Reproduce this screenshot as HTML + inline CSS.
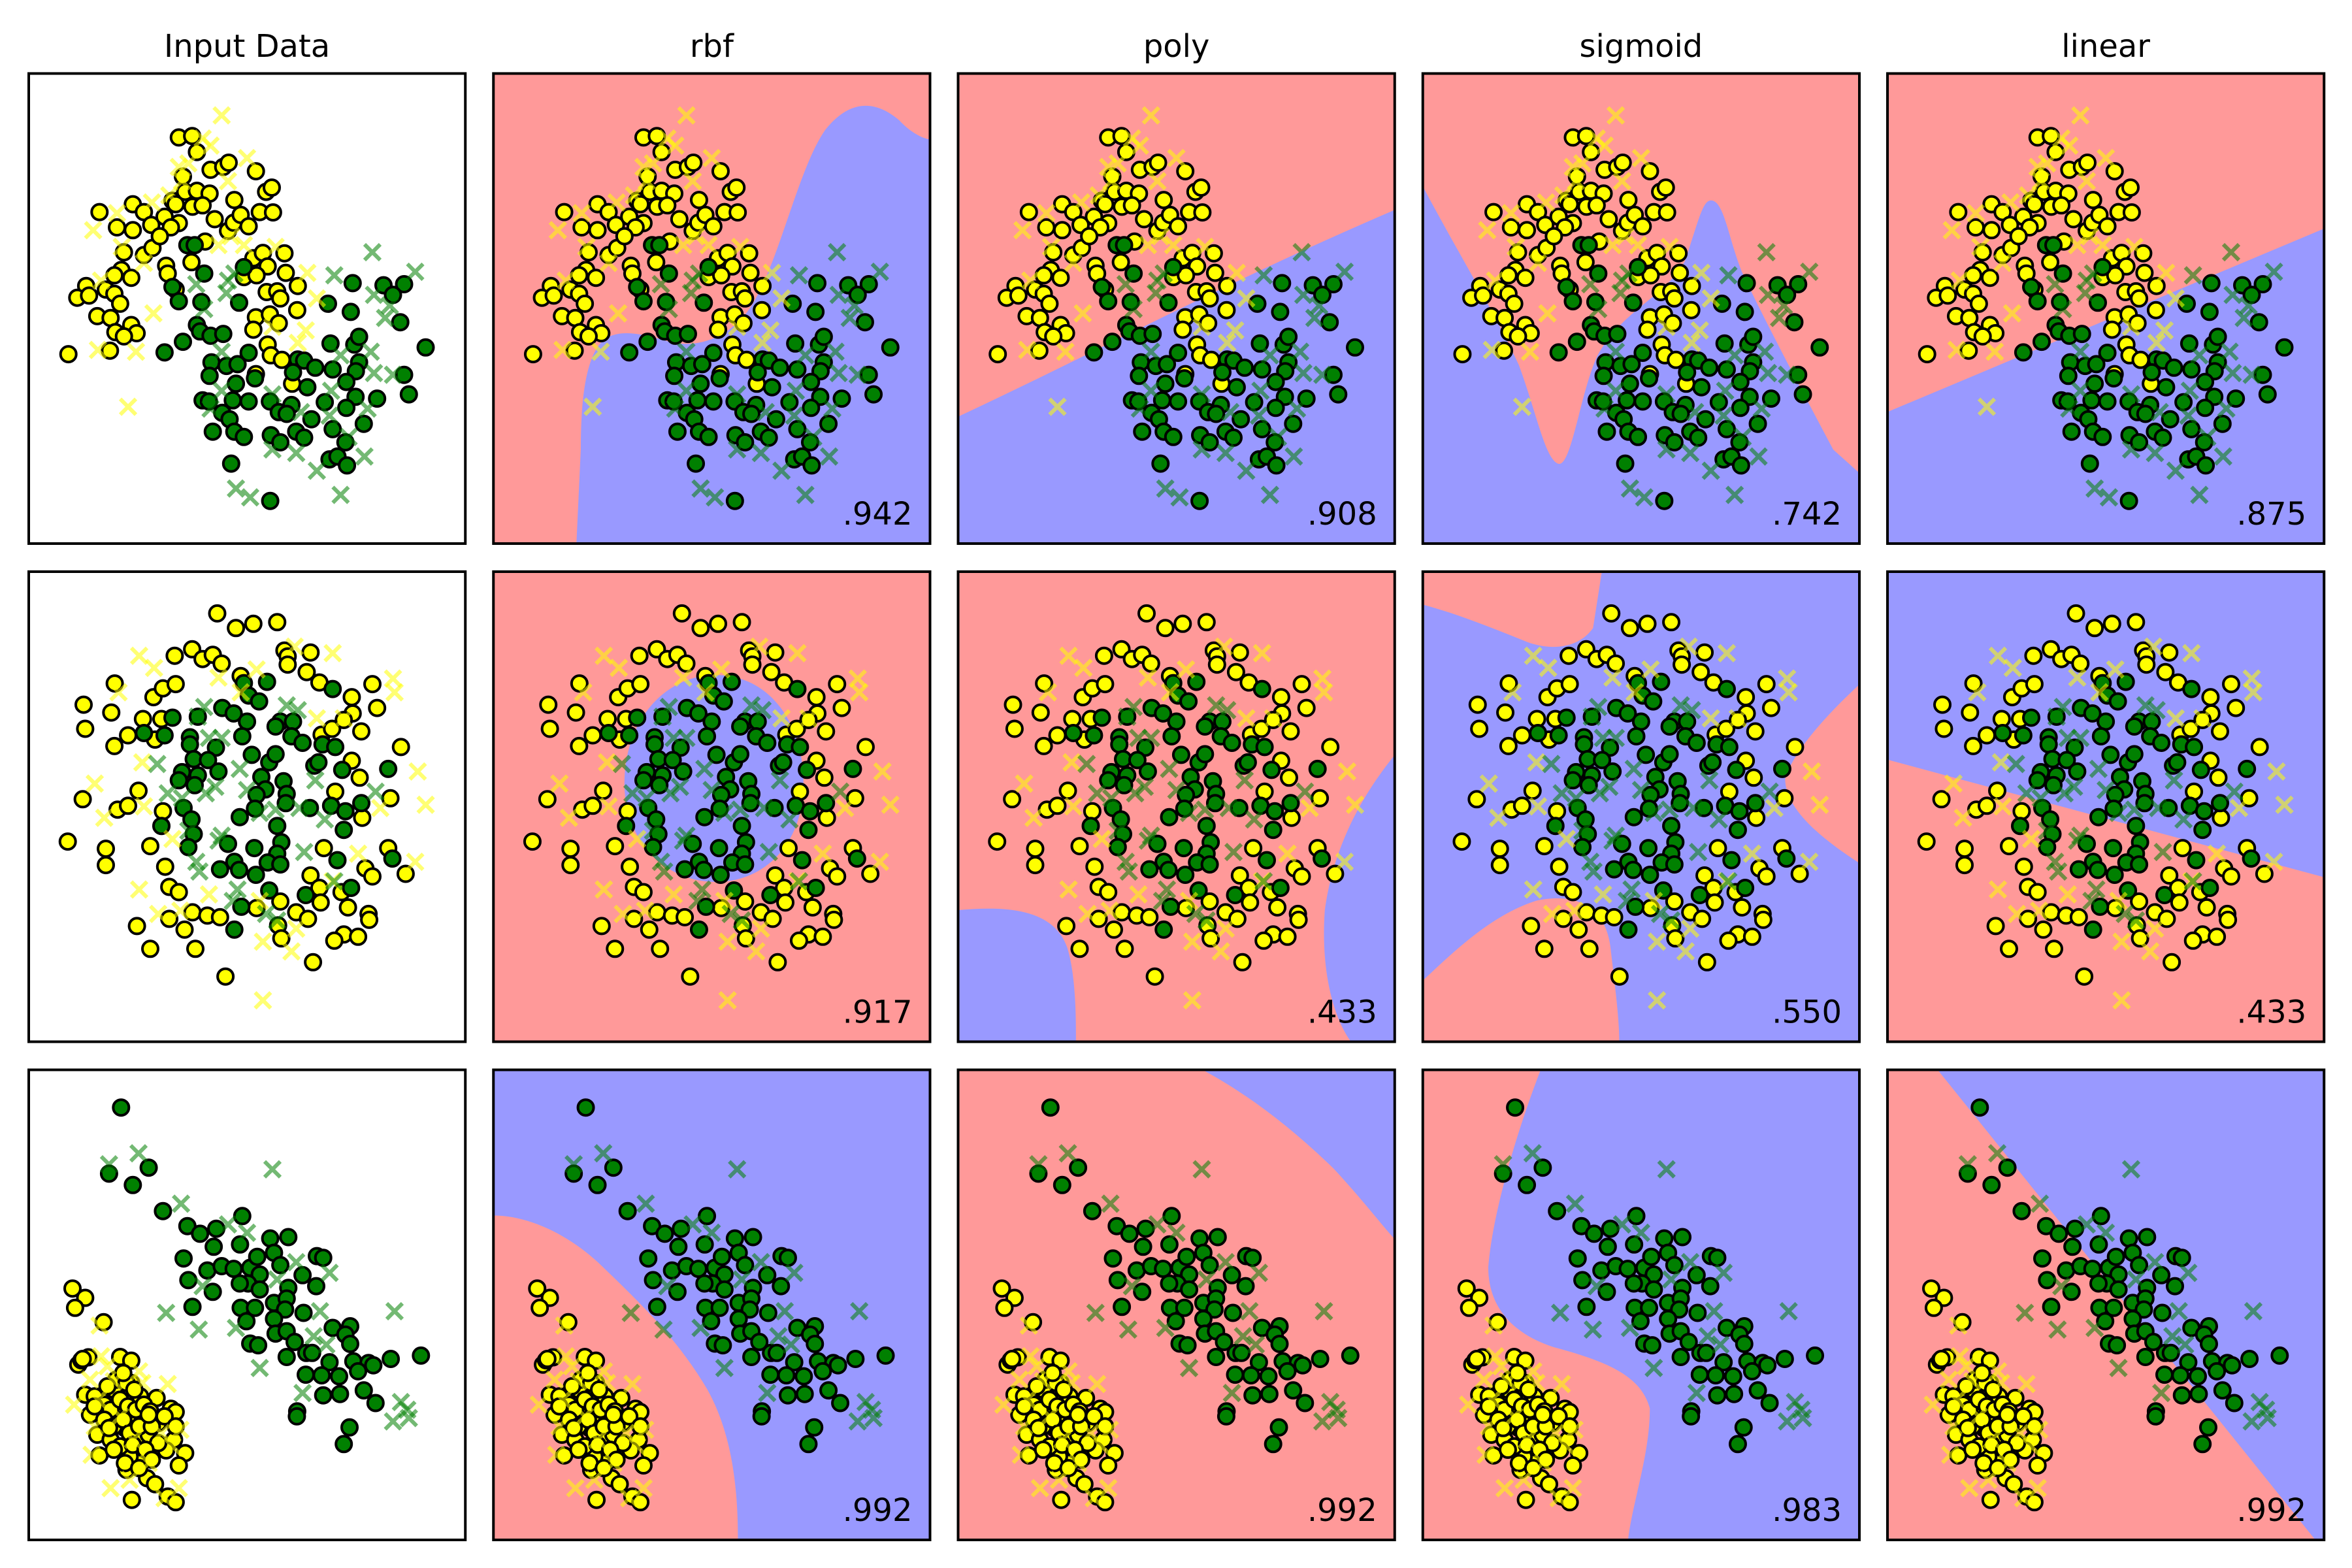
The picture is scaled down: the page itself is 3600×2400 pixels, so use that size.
<!DOCTYPE html>
<html><head><meta charset="utf-8">
<style>
html,body{margin:0;padding:0;background:#fff;}
svg{display:block;}
text{font-family:"DejaVu Sans","Liberation Sans",sans-serif;}
</style></head>
<body>
<svg id="fig" xmlns="http://www.w3.org/2000/svg" width="3600" height="2400" viewBox="0 0 3600 2400">
<rect x="0" y="0" width="3600" height="2400" fill="#fff"/>
</svg>
<script>
// ---- chart data (values in dataset units; axis limits below) ----
const columnTitles = ["Input Data", "rbf", "poly", "sigmoid", "linear"];
const scoreLabels = [
  ["", ".942", ".908", ".742", ".875"],
  ["", ".917", ".433", ".550", ".433"],
  ["", ".992", ".992", ".983", ".992"]
];
const xLimits = [[92,1468],[92,1468],[92,1468]];
const yLimits = [[207,1530],[70,1512],[72,1480]];

const ds1YellowTrain = [[565,387],[607,383],[622,428],[665,478],[705,470],[722,458],[808,482],[840,540],[858,528],[578,497],[585,540],[622,537],[662,545],[545,565],[555,575],[608,582],[640,578],[420,575],[455,597],[315,597],[370,640],[420,648],[478,633],[520,610],[565,628],[540,640],[678,617],[720,650],[740,563],[738,627],[760,605],[785,637],[820,597],[862,598],[648,680],[392,710],[455,718],[482,698],[505,665],[384,760],[362,775],[415,782],[525,748],[530,770],[605,738],[800,727],[830,712],[898,713],[845,750],[770,780],[810,775],[902,768],[273,805],[245,838],[282,832],[335,815],[362,827],[380,855],[308,890],[350,895],[365,935],[415,915],[432,938],[392,947],[348,987],[217,997],[555,815],[842,822],[875,820],[885,840],[940,805],[938,873],[808,893],[852,885],[880,910],[800,928],[845,970],[855,1000],[890,1013],[808,1053],[922,1080]];
const ds1GreenTrain = [[592,690],[615,690],[645,770],[545,808],[565,848],[636,850],[755,852],[770,752],[622,915],[632,933],[665,945],[705,940],[578,962],[520,992],[785,993],[1113,797],[1210,803],[1275,800],[1240,830],[1035,855],[1107,878],[1263,907],[1343,978],[1043,967],[1118,970],[1133,948],[668,1020],[715,1030],[750,1025],[662,1058],[805,1065],[940,1012],[960,1015],[995,1035],[1050,1040],[1133,1020],[1123,1045],[1275,1055],[1290,1110],[1093,1075],[925,1048],[970,1090],[745,1080],[735,1127],[640,1127],[660,1130],[785,1130],[852,1130],[920,1140],[1025,1132],[1122,1117],[1190,1122],[1093,1148],[702,1162],[725,1180],[880,1160],[905,1165],[983,1180],[1148,1193],[672,1215],[740,1215],[770,1230],[855,1225],[885,1245],[935,1215],[960,1232],[1050,1208],[1090,1245],[1040,1293],[1065,1285],[1095,1310],[730,1305],[853,1410]];
const ds1YellowTest = [[700,325],[640,390],[665,410],[780,445],[565,470],[595,460],[720,510],[535,550],[575,510],[480,570],[370,600],[295,648],[385,695],[455,740],[690,690],[770,690],[870,695],[730,665],[485,882],[310,985],[430,990],[970,768],[1000,840],[860,920],[965,930],[940,965],[405,1145],[320,790]];
const ds1GreenTest = [[1175,710],[1310,765],[1055,775],[1180,830],[1230,860],[1215,895],[720,790],[620,800],[715,825],[645,870],[740,770],[700,990],[1170,990],[1075,1000],[1180,1050],[1240,1055],[1045,1100],[700,1100],[860,1110],[665,1150],[950,1160],[1100,1230],[860,1265],[935,1275],[1150,1285],[1000,1325],[745,1375],[790,1400],[1075,1393],[1040,1170],[1160,1150]];

const ds2YellowTrain = [[686,198],[745,243],[800,230],[875,225],[552,328],[607,308],[640,338],[672,325],[700,352],[898,312],[908,330],[908,355],[980,318],[968,378],[1008,410],[1110,455],[1175,415],[1190,488],[1113,505],[1140,560],[760,390],[363,413],[265,478],[352,502],[270,552],[485,455],[515,428],[555,415],[452,522],[510,522],[490,585],[362,605],[405,572],[1015,570],[1048,552],[1085,525],[1265,608],[1110,650],[1135,702],[1232,765],[1058,745],[1143,825],[262,768],[372,800],[405,788],[438,742],[515,805],[215,898],[335,920],[335,970],[475,912],[522,975],[535,1037],[565,1053],[1022,918],[1225,918],[1153,980],[1175,1005],[1280,997],[980,1002],[1008,1040],[1012,1085],[1078,1053],[1098,1100],[935,1115],[972,1135],[885,1082],[878,1155],[888,1195],[810,1102],[1163,1120],[1165,1138],[1085,1183],[1055,1202],[1130,1190],[608,1115],[655,1125],[695,1130],[535,1135],[433,1157],[583,1168],[475,1227],[617,1227],[712,1312],[988,1268]];
const ds2GreenTrain = [[770,412],[843,408],[785,450],[818,468],[1050,430],[702,488],[738,505],[780,530],[545,518],[625,515],[455,565],[520,572],[600,578],[600,600],[682,610],[765,575],[885,530],[925,530],[870,545],[920,575],[955,595],[1018,600],[1058,608],[612,645],[657,648],[575,685],[565,710],[625,695],[615,725],[690,683],[795,632],[850,655],[870,630],[992,665],[1005,655],[1080,678],[825,700],[838,738],[895,713],[905,752],[902,780],[810,755],[805,797],[580,795],[605,830],[510,850],[612,875],[595,915],[757,823],[875,850],[978,795],[1045,788],[1090,805],[1140,780],[1085,862],[1225,675],[720,905],[803,918],[888,900],[875,935],[740,960],[755,985],[695,983],[808,1000],[845,962],[885,968],[1065,955],[1238,950],[850,1048],[965,1062],[1108,1040],[762,1098],[740,1168]];
const ds2YellowTest = [[440,328],[487,365],[375,440],[690,395],[810,370],[760,440],[930,300],[1050,320],[1240,398],[1245,440],[1000,520],[1085,520],[450,655],[300,720],[330,825],[455,790],[1318,683],[1343,785],[1200,795],[1310,960],[1130,935],[545,890],[440,1045],[660,1060],[500,1120],[570,1110],[820,1080],[830,1205],[920,1235],[935,1165],[830,1385],[1050,1020]];
const ds2GreenTest = [[645,485],[625,515],[700,580],[660,580],[497,660],[757,675],[530,750],[575,765],[650,750],[680,730],[780,740],[870,800],[945,795],[1025,830],[995,710],[905,480],[940,495],[820,810],[700,880],[690,895],[620,960],[630,990],[750,1045],[735,1080],[840,1120],[1055,1020],[875,1140],[595,865],[960,930],[1185,745]];

const ds3GreenTrain = [[383,185],[345,383],[470,365],[420,417],[515,495],[592,540],[632,563],[683,548],[675,602],[765,510],[758,595],[580,637],[595,702],[655,673],[672,737],[700,660],[738,668],[790,665],[812,632],[853,577],[910,573],[865,620],[885,657],[820,685],[783,712],[820,730],[757,712],[910,725],[955,687],[998,720],[1000,630],[1020,635],[608,782],[760,785],[805,785],[778,825],[865,770],[905,757],[900,790],[958,800],[865,818],[870,862],[905,855],[930,887],[790,892],[815,897],[905,932],[967,920],[985,920],[1050,845],[1105,840],[1090,865],[1105,893],[1040,948],[1115,945],[1163,950],[1178,957],[1130,975],[1070,990],[1015,987],[965,985],[1020,1047],[1073,1043],[1148,1032],[1185,1070],[1233,938],[1328,928],[938,1095],[937,1110],[1103,1143],[1085,1193]];
const ds3YellowTrain = [[230,727],[270,755],[238,785],[328,828],[248,955],[258,942],[280,933],[380,932],[415,943],[270,1045],[320,1060],[360,1030],[368,1000],[415,1010],[443,1050],[495,1055],[285,1105],[370,1088],[395,1145],[420,1120],[460,1125],[500,1130],[540,1087],[555,1097],[308,1165],[350,1180],[435,1175],[470,1165],[550,1180],[525,1212],[585,1220],[432,1218],[450,1245],[410,1230],[315,1227],[565,1257],[400,1270],[465,1295],[490,1313],[530,1350],[555,1367],[417,1360],[262,938],[300,1050],[330,1075],[350,1090],[380,1060],[405,1080],[430,1090],[455,1075],[475,1095],[330,1120],[360,1140],[390,1120],[410,1160],[440,1140],[480,1140],[500,1190],[380,1200],[420,1195],[460,1210],[345,1145],[400,1010],[425,1030],[470,1105],[520,1110],[555,1140],[300,1080],[395,1250],[440,1265],[480,1240],[360,1210],[340,1020],[390,980]];
const ds3YellowTest = [[315,838],[320,930],[285,1000],[360,1005],[440,975],[530,1013],[235,1075],[310,1060],[570,1150],[290,1225],[545,1200],[350,1325],[410,1300],[565,1325],[520,1355],[470,1250],[340,960],[450,1010],[380,1110],[510,1160],[300,1140],[420,1180]];
const ds3GreenTest = [[345,355],[438,322],[860,370],[572,473],[720,535],[780,560],[525,800],[628,850],[745,845],[935,648],[1040,680],[875,700],[1010,795],[1245,795],[820,965],[955,1040],[990,870],[1030,895],[1265,1067],[1285,1090],[1240,1125],[1290,1115],[640,720]];

const datasets = [
  {yTrain: ds1YellowTrain, gTrain: ds1GreenTrain, yTest: ds1YellowTest, gTest: ds1GreenTest},
  {yTrain: ds2YellowTrain, gTrain: ds2GreenTrain, yTest: ds2YellowTest, gTest: ds2GreenTest},
  {yTrain: ds3YellowTrain, gTrain: ds3GreenTrain, yTest: ds3YellowTest, gTest: ds3GreenTest}
];

// ---- decision region shapes (normalized panel geometry) ----
const PINK = "#ff9999", BLUE = "#9999ff";
const regions = [
  [null,
   {bg: PINK, fg: BLUE, d: "M0.19,1 L0.2,0.8 C0.2,0.7 0.21,0.62 0.24,0.58 C0.27,0.54 0.33,0.55 0.4,0.57 C0.48,0.59 0.56,0.55 0.6,0.48 C0.66,0.38 0.7,0.2 0.76,0.12 C0.82,0.05 0.88,0.06 0.93,0.1 C0.96,0.13 0.99,0.14 1,0.14 L1,1 Z"},
   {bg: PINK, fg: BLUE, d: "M0,0.73 C0.3,0.6 0.6,0.45 1,0.29 L1,1 L0,1 Z"},
   {bg: PINK, fg: BLUE, d: "M0,0.24 C0.08,0.38 0.16,0.5 0.22,0.62 C0.26,0.72 0.28,0.82 0.31,0.83 C0.34,0.84 0.36,0.68 0.4,0.6 C0.46,0.5 0.55,0.48 0.6,0.4 C0.63,0.32 0.64,0.27 0.66,0.27 C0.69,0.27 0.7,0.35 0.73,0.42 C0.78,0.52 0.86,0.66 0.94,0.8 L1,0.85 L1,1 L0,1 Z"},
   {bg: PINK, fg: BLUE, d: "M0,0.72 L1,0.33 L1,1 L0,1 Z"}],
  [null,
   {bg: PINK, fg: BLUE, d: "M0.51,0.22 C0.63,0.22 0.71,0.32 0.71,0.45 C0.71,0.58 0.62,0.66 0.51,0.66 C0.39,0.66 0.3,0.57 0.3,0.45 C0.3,0.32 0.39,0.22 0.51,0.22 Z"},
   {bg: PINK, fg: BLUE, d: "M0,0.72 C0.12,0.71 0.22,0.72 0.25,0.8 C0.27,0.86 0.27,0.95 0.27,1 L0,1 Z M1,0.39 C0.93,0.47 0.86,0.58 0.84,0.72 C0.83,0.85 0.86,0.95 0.9,1 L1,1 Z"},
   {bg: BLUE, fg: PINK, d: "M0,0 L0.41,0 L0.39,0.12 C0.36,0.16 0.3,0.17 0.24,0.15 C0.16,0.12 0.08,0.09 0,0.07 Z M1,0.24 C0.93,0.3 0.85,0.38 0.83,0.44 C0.83,0.5 0.9,0.56 1,0.62 Z M0,0.87 C0.08,0.8 0.16,0.73 0.26,0.7 C0.36,0.68 0.42,0.72 0.43,0.8 C0.44,0.88 0.45,0.95 0.45,1 L0,1 Z"},
   {bg: PINK, fg: BLUE, d: "M0,0.4 L1,0.65 L1,0 L0,0 Z"}],
  [null,
   {bg: BLUE, fg: PINK, d: "M0,0.31 C0.08,0.31 0.17,0.35 0.24,0.41 C0.33,0.49 0.42,0.57 0.49,0.68 C0.55,0.78 0.56,0.9 0.56,1 L0,1 Z"},
   {bg: PINK, fg: BLUE, d: "M0.56,0 C0.66,0.05 0.76,0.12 0.86,0.21 C0.93,0.28 0.97,0.33 1,0.36 L1,0 Z"},
   {bg: BLUE, fg: PINK, d: "M0,0 L0.27,0 C0.22,0.12 0.16,0.3 0.15,0.42 C0.15,0.5 0.2,0.56 0.3,0.59 C0.42,0.62 0.5,0.65 0.52,0.72 C0.52,0.82 0.48,0.92 0.47,1 L0,1 Z"},
   {bg: BLUE, fg: PINK, d: "M0.115,0 L0.98,1 L0,1 L0,0 Z"}]
];

// ---- layout ----
const svg = document.getElementById('fig');
const NS = "http://www.w3.org/2000/svg";
const PW = 668.25, PH = 719.5, GX = 43, GY = 43, L0 = 44, T0 = 112.5;
function mk(tag, attrs, parent) {
  const e = document.createElementNS(NS, tag);
  for (const k in attrs) e.setAttribute(k, attrs[k]);
  parent.appendChild(e);
  return e;
}
function xScale(ds, v) { const [a,b] = xLimits[ds]; return (v - a) / (b - a) * PW; }
function yScale(ds, v) { const [a,b] = yLimits[ds]; return (v - a) / (b - a) * PH; }
function normPath(d) {
  return d.replace(/(-?[\d.]+),(-?[\d.]+)/g, (m, a, b) => (parseFloat(a)*PW).toFixed(1) + "," + (parseFloat(b)*PH).toFixed(1));
}

for (let c = 0; c < 5; c++) {
  const t = mk('text', {x: L0 + c*(PW+GX) + PW/2, y: 87, 'font-size': 48, 'text-anchor': 'middle', fill: '#000'}, svg);
  
  
  t.textContent = columnTitles[c];
}

for (let r = 0; r < 3; r++) {
  for (let c = 0; c < 5; c++) {
    const ox = L0 + c*(PW+GX), oy = T0 + r*(PH+GY);
    const g = mk('g', {transform: `translate(${ox},${oy})`}, svg);
    
    
    const clipId = `clip-${r}-${c}`;
    const defs = mk('defs', {}, g);
    const cp = mk('clipPath', {id: clipId}, defs);
    mk('rect', {x: 0, y: 0, width: PW, height: PH}, cp);
    const inner = mk('g', {'clip-path': `url(#${clipId})`}, g);
    const reg = regions[r][c];
    const bg = mk('rect', {x: 0, y: 0, width: PW, height: PH, fill: reg ? reg.bg : '#fff'}, inner);
    
    
    if (reg) {
      const p = mk('path', {d: normPath(reg.d), fill: reg.fg}, inner);
      
      
    }
    const ds = datasets[r];
    const drawCircles = (arr, fill, name) => {
      for (const [x, y] of arr) {
        const e = mk('circle', {cx: xScale(r, x).toFixed(1), cy: yScale(r, y).toFixed(1), r: 12, fill: fill, stroke: '#000', 'stroke-width': 4}, inner);
        
        
      }
    };
    const drawX = (arr, col, name) => {
      for (const [x, y] of arr) {
        const px = xScale(r, x), py = yScale(r, y), s = 12;
        const e = mk('path', {d: `M${px-s},${py-s}L${px+s},${py+s}M${px-s},${py+s}L${px+s},${py-s}`, stroke: col, 'stroke-width': 6, 'stroke-opacity': 0.55, fill: 'none'}, inner);
        
        
      }
    };
    drawCircles(ds.yTrain, '#ffff00', 'train-point-yellow');
    drawCircles(ds.gTrain, '#008000', 'train-point-green');
    drawX(ds.yTest, '#ffff00', 'test-point-yellow');
    drawX(ds.gTest, '#008000', 'test-point-green');
    const fr = mk('rect', {x: 0, y: 0, width: PW, height: PH, fill: 'none', stroke: '#000', 'stroke-width': 4}, g);
    
    
    if (scoreLabels[r][c]) {
      const st = mk('text', {x: PW - 27, y: PH - 29, 'font-size': 48, 'text-anchor': 'end', fill: '#000'}, g);
      
      
      st.textContent = scoreLabels[r][c];
    }
  }
}
</script>
</body></html>
